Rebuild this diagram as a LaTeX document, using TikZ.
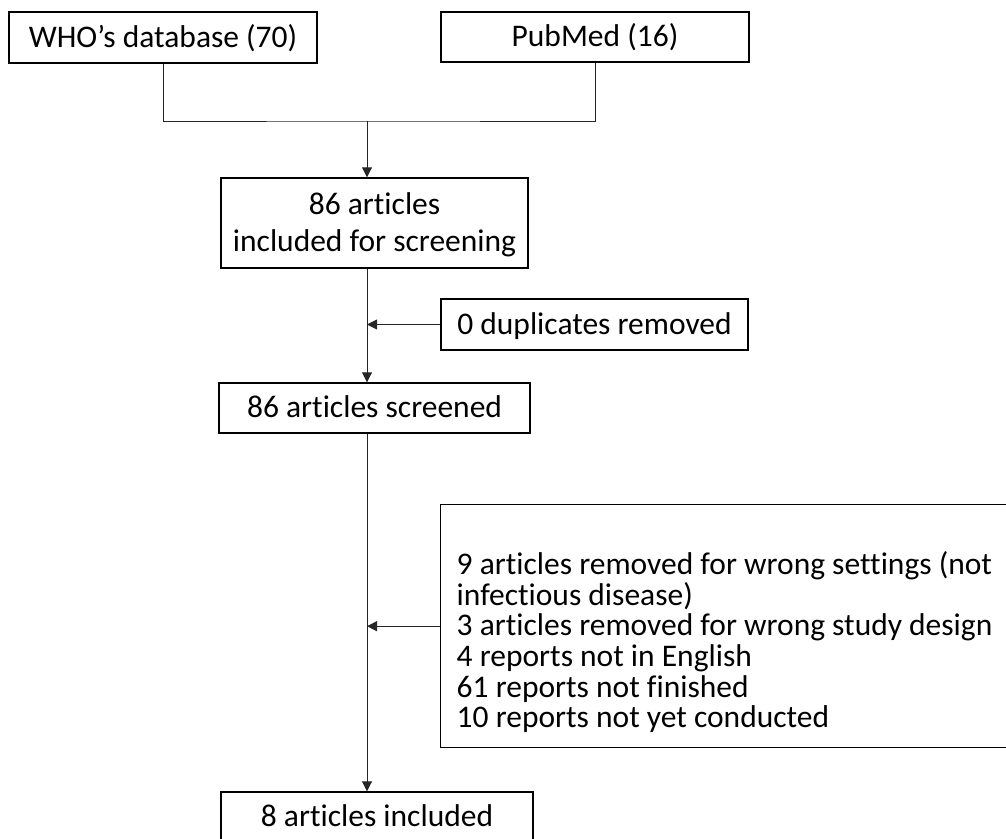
\documentclass[tikz,border=0pt]{standalone}
\usepackage{fontspec}
\setmainfont{Carlito}[Ligatures=NoCommon]
\usetikzlibrary{arrows.meta}
\begin{document}
\begin{tikzpicture}[x=1pt,y=-1pt,
  box/.style={draw=black, line width=1.4pt, inner sep=0pt,
    font=\fontsize{31.5}{31.5}\selectfont, text height=24pt, text depth=5pt},
  listbox/.style={draw=black, line width=1.4pt, inner xsep=16pt, inner ysep=0pt,
    font=\fontsize{31.5}{30.6}\selectfont, align=flush left},
  link/.style={line width=0.9pt, draw=black!85},
  flow/.style={link, -{Triangle[length=10pt,width=10pt]}}]
\useasboundingbox (0,0) rectangle (1006,838);

% sources
\node[box, minimum width=308pt, minimum height=51pt] (who) at (163,37.5) {WHO’s database (70)};
\node[box, minimum width=308pt, minimum height=50pt] (pub) at (595,37) {PubMed (16)};

% main column
\node[box, minimum width=307pt, minimum height=90pt, align=center,
      font=\fontsize{31.5}{37}\selectfont, text height=61pt, text depth=5pt] (inc) at (374.5,223)
      {86 articles\\included for screening};
\node[box, minimum width=311pt, minimum height=50pt] (scr) at (374.5,408) {86 articles screened};
\node[box, minimum width=312pt, minimum height=50pt] (fin) at (377,817) {8 articles included};

% exclusions
\node[box, minimum width=307pt, minimum height=51pt] (dup) at (594.5,324.5) {0 duplicates removed};
\node[listbox, anchor=north west, text width=588pt, minimum height=243pt,
      text height=24pt, text depth=127pt] (exc) at (440,504)
  {9 articles removed for wrong settings (not\\
   infectious disease)\\
   3 articles removed for wrong study design\\
   4 reports not in English\\
   61 reports not finished\\
   10 reports not yet conducted};

% connectors
\coordinate (spine) at (367,121);
\draw[link] (who.south) |- (spine) -| (pub.south);
\draw[flow] (spine) -- (spine |- inc.north);
\draw[flow] (spine |- inc.south) -- (spine |- scr.north);
\draw[flow] (dup.west) -- (dup.west -| spine);
\draw[flow] (spine |- scr.south) -- (spine |- fin.north);
\draw[flow] (exc.west) -- (exc.west -| spine);
\end{tikzpicture}
\end{document}
